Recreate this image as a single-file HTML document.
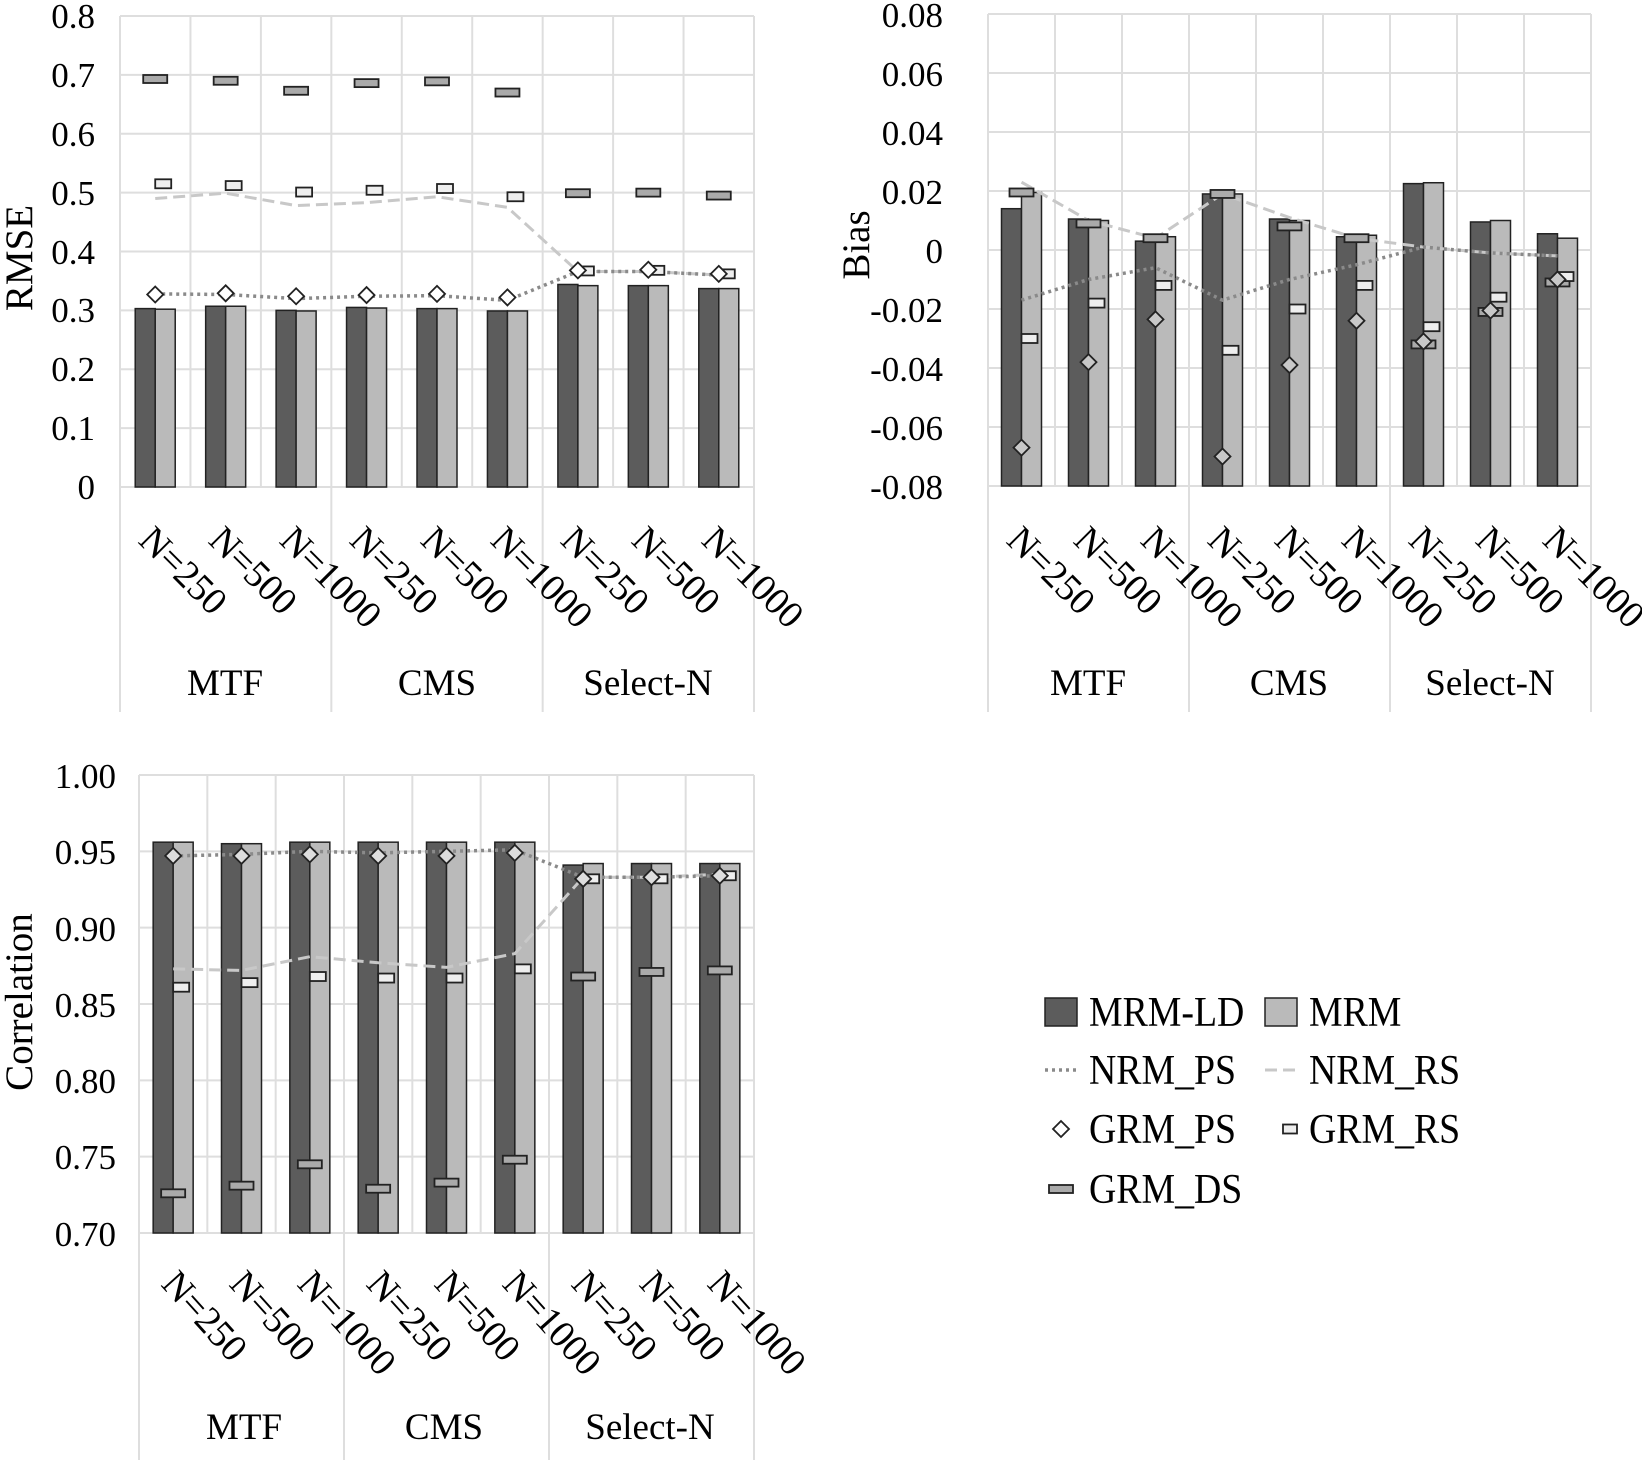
<!DOCTYPE html>
<html><head><meta charset="utf-8"><style>
html,body{margin:0;padding:0;background:#fff}
svg{display:block}
text{font-family:"Liberation Serif",serif;fill:#000}
.yt{font-size:35px;text-anchor:end}
.xt{font-size:38px}
.gl{font-size:37px;text-anchor:middle}
.at{font-size:39px;text-anchor:middle}
.lg{font-size:42px}
</style></head><body>
<svg id="s" width="1642" height="1460" viewBox="0 0 1642 1460" xmlns="http://www.w3.org/2000/svg">
<g id="shapes"></g>
<!-- Chart 1 -->
<text class="yt" x="95" y="28">0.8</text>
<text class="yt" x="95" y="87">0.7</text>
<text class="yt" x="95" y="146">0.6</text>
<text class="yt" x="95" y="205">0.5</text>
<text class="yt" x="95" y="264">0.4</text>
<text class="yt" x="95" y="322">0.3</text>
<text class="yt" x="95" y="381">0.2</text>
<text class="yt" x="95" y="440">0.1</text>
<text class="yt" x="95" y="499">0</text>
<text class="at" transform="translate(32,258) rotate(-90)">RMSE</text>
<g class="xt">
<text transform="translate(137,542) rotate(45)">N=250</text>
<text transform="translate(207,542) rotate(45)">N=500</text>
<text transform="translate(278,542) rotate(45)">N=1000</text>
<text transform="translate(348,542) rotate(45)">N=250</text>
<text transform="translate(419,542) rotate(45)">N=500</text>
<text transform="translate(489,542) rotate(45)">N=1000</text>
<text transform="translate(559,542) rotate(45)">N=250</text>
<text transform="translate(630,542) rotate(45)">N=500</text>
<text transform="translate(700,542) rotate(45)">N=1000</text>
</g>
<text class="gl" x="225" y="695">MTF</text>
<text class="gl" x="437" y="695">CMS</text>
<text class="gl" x="648" y="695">Select-N</text>
<!-- Chart 2 -->
<text class="yt" x="943" y="27">0.08</text>
<text class="yt" x="943" y="86">0.06</text>
<text class="yt" x="943" y="145">0.04</text>
<text class="yt" x="943" y="204">0.02</text>
<text class="yt" x="943" y="263">0</text>
<text class="yt" x="943" y="322">-0.02</text>
<text class="yt" x="943" y="381">-0.04</text>
<text class="yt" x="943" y="440">-0.06</text>
<text class="yt" x="943" y="499">-0.08</text>
<text class="at" transform="translate(869,245) rotate(-90)">Bias</text>
<g class="xt">
<text transform="translate(1005,542) rotate(45)">N=250</text>
<text transform="translate(1072,542) rotate(45)">N=500</text>
<text transform="translate(1139,542) rotate(45)">N=1000</text>
<text transform="translate(1206,542) rotate(45)">N=250</text>
<text transform="translate(1273,542) rotate(45)">N=500</text>
<text transform="translate(1340,542) rotate(45)">N=1000</text>
<text transform="translate(1407,542) rotate(45)">N=250</text>
<text transform="translate(1474,542) rotate(45)">N=500</text>
<text transform="translate(1541,542) rotate(45)">N=1000</text>
</g>
<text class="gl" x="1088" y="695">MTF</text>
<text class="gl" x="1289" y="695">CMS</text>
<text class="gl" x="1490" y="695">Select-N</text>
<!-- Chart 3 -->
<text class="yt" x="116" y="788">1.00</text>
<text class="yt" x="116" y="864">0.95</text>
<text class="yt" x="116" y="941">0.90</text>
<text class="yt" x="116" y="1017">0.85</text>
<text class="yt" x="116" y="1093">0.80</text>
<text class="yt" x="116" y="1169">0.75</text>
<text class="yt" x="116" y="1246">0.70</text>
<text class="at" transform="translate(32,1002) rotate(-90)">Correlation</text>
<g class="xt">
<text transform="translate(160,1285) rotate(48)">N=250</text>
<text transform="translate(228,1285) rotate(48)">N=500</text>
<text transform="translate(296,1285) rotate(48)">N=1000</text>
<text transform="translate(365,1285) rotate(48)">N=250</text>
<text transform="translate(433,1285) rotate(48)">N=500</text>
<text transform="translate(501,1285) rotate(48)">N=1000</text>
<text transform="translate(570,1285) rotate(48)">N=250</text>
<text transform="translate(638,1285) rotate(48)">N=500</text>
<text transform="translate(706,1285) rotate(48)">N=1000</text>
</g>
<text class="gl" x="244" y="1439">MTF</text>
<text class="gl" x="444" y="1439">CMS</text>
<text class="gl" x="650" y="1439">Select-N</text>
<!-- Legend -->
<g class="lg">
<text transform="translate(1089,1026) scale(0.9,1)">MRM-LD</text>
<text transform="translate(1309,1026) scale(0.9,1)">MRM</text>
<text transform="translate(1089,1084) scale(0.9,1)">NRM_PS</text>
<text transform="translate(1309,1084) scale(0.9,1)">NRM_RS</text>
<text transform="translate(1089,1143) scale(0.9,1)">GRM_PS</text>
<text transform="translate(1309,1143) scale(0.9,1)">GRM_RS</text>
<text transform="translate(1089,1203) scale(0.9,1)">GRM_DS</text>
</g>
</svg>
<script>
var NS="http://www.w3.org/2000/svg",G=document.getElementById("shapes");
function el(t,a){var e=document.createElementNS(NS,t);for(var k in a)e.setAttribute(k,a[k]);G.appendChild(e);return e;}
function chart(c){
  var w=(c.R-c.L)/9, y=function(v){return c.B-(v-c.min)/(c.max-c.min)*(c.B-c.T);};
  for(var v=c.min;v<=c.max+1e-9;v+=c.step) el("line",{x1:c.L,x2:c.R,y1:y(v),y2:y(v),stroke:"#dedede","stroke-width":2});
  for(var i=0;i<=9;i++){var x=c.L+i*w;el("line",{x1:x,x2:x,y1:c.T,y2:(i%3==0)?c.bot:c.B,stroke:"#dedede","stroke-width":2});}
  var d=c.d;
  for(var i=0;i<9;i++){var cx=c.L+w*(i+.5);
    el("rect",{x:cx-20,y:y(d[0][i]),width:20,height:c.B-y(d[0][i]),fill:"#5c5c5c",stroke:"#222","stroke-width":1.5});
    el("rect",{x:cx,y:y(d[1][i]),width:20,height:c.B-y(d[1][i]),fill:"#bababa",stroke:"#222","stroke-width":1.5});}
  function line(arr,st){var p="";for(var i=0;i<9;i++)p+=(i?"L":"M")+(c.L+w*(i+.5))+","+y(arr[i]);el("path",Object.assign({d:p,fill:"none"},st));}
  line(d[3],{stroke:"#c8c8c8","stroke-width":3,"stroke-dasharray":"12,6"});
  line(d[2],{stroke:"#8a8a8a","stroke-width":3.5,"stroke-dasharray":"3,4"});
  for(var i=0;i<9;i++){var cx=c.L+w*(i+.5);
    var dy=y(d[6][i]);el("rect",{x:cx-12,y:dy-4,width:24,height:8,fill:"#aaa",stroke:"#222","stroke-width":1.8});
    var ry=y(d[5][i]);el("rect",{x:cx,y:ry-4.5,width:16,height:9,fill:"#eee",stroke:"#222","stroke-width":1.8});
    var py=y(d[4][i]);el("path",{d:"M"+cx+","+(py-8)+"L"+(cx+8)+","+py+"L"+cx+","+(py+8)+"L"+(cx-8)+","+py+"Z",fill:c.df,stroke:"#222","stroke-width":1.8});}
}
chart({L:120,R:754,T:16,B:487,bot:712,min:0,max:0.8,step:0.1,df:"#fff",d:[
[.303,.307,.300,.305,.303,.299,.344,.342,.337],
[.302,.307,.299,.304,.303,.299,.342,.342,.337],
[.328,.327,.320,.324,.325,.317,.366,.366,.360],
[.490,.499,.478,.483,.493,.475,.366,.366,.360],
[.327,.329,.324,.326,.328,.322,.368,.369,.362],
[.515,.512,.501,.504,.507,.493,.367,.368,.362],
[.693,.690,.673,.686,.689,.670,.499,.500,.495]]});
chart({L:988,R:1591,T:14,B:486,bot:712,min:-0.08,max:0.08,step:0.02,df:"#c8c8c8",d:[
[.014,.0105,.003,.019,.0105,.0045,.0225,.0095,.0055],
[.0195,.010,.0045,.019,.010,.005,.0228,.010,.004],
[-.017,-.010,-.006,-.017,-.010,-.005,.001,-.001,-.002],
[.023,.010,.004,.019,.011,.004,.001,-.001,-.002],
[-.067,-.038,-.0235,-.070,-.039,-.024,-.031,-.0205,-.010],
[-.030,-.018,-.012,-.034,-.020,-.012,-.026,-.016,-.009],
[.0195,.009,.004,.019,.008,.004,-.032,-.021,-.011]]});
chart({L:139,R:754,T:775,B:1233,bot:1460,min:0.70,max:1.00,step:0.05,df:"#ddd",d:[
[.956,.955,.956,.956,.956,.956,.941,.942,.942],
[.956,.955,.956,.956,.956,.956,.942,.942,.942],
[.947,.948,.950,.949,.950,.951,.933,.933,.934],
[.873,.872,.881,.877,.874,.883,.933,.933,.935],
[.947,.947,.948,.947,.947,.949,.932,.933,.934],
[.861,.864,.868,.867,.867,.873,.932,.932,.934],
[.726,.731,.745,.729,.733,.748,.868,.871,.872]]});
// legend
el("rect",{x:1045,y:998,width:32,height:28,fill:"#5c5c5c",stroke:"#222","stroke-width":1.5});
el("rect",{x:1265,y:998,width:32,height:28,fill:"#bababa",stroke:"#222","stroke-width":1.5});
el("line",{x1:1045,x2:1080,y1:1070,y2:1070,stroke:"#8a8a8a","stroke-width":3.5,"stroke-dasharray":"3,4"});
el("line",{x1:1265,x2:1300,y1:1070,y2:1070,stroke:"#c8c8c8","stroke-width":3,"stroke-dasharray":"12,6"});
el("path",{d:"M1061,1121L1069,1129L1061,1137L1053,1129Z",fill:"#fff",stroke:"#222","stroke-width":1.8});
el("rect",{x:1283,y:1124.5,width:14,height:9,fill:"#eee",stroke:"#222","stroke-width":1.8});
el("rect",{x:1049,y:1185,width:24,height:8,fill:"#aaa",stroke:"#222","stroke-width":1.8});
</script>
</body></html>
